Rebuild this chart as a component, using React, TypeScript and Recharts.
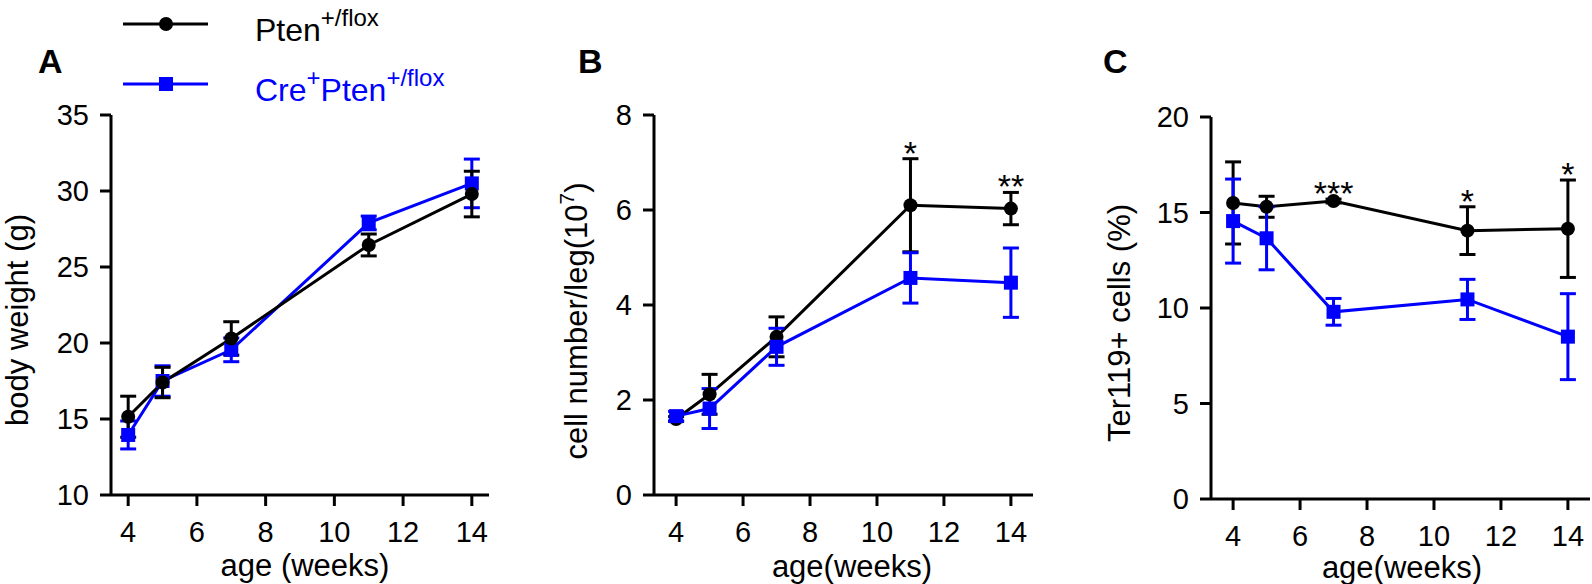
import React from 'react';
import { LineChart, Line, XAxis, YAxis, ErrorBar, ReferenceDot } from 'recharts';

const FONT = '"Liberation Sans", Arial, Helvetica, sans-serif';
const BLUE = '#0000ff';

const weeks = [4, 5, 7, 11, 14];
const weekTicks = [4, 6, 8, 10, 12, 14];

const seriesNames = ['Pten', 'Cre'];

// A - body weight (g)
const weightCtrl = [15.15, 17.4, 20.3, 26.45, 29.8];
const weightCtrlErr = [1.35, 1.0, 1.1, 0.72, 1.5];
const weightCre = [13.95, 17.5, 19.55, 27.9, 30.5];
const weightCreErr = [0.92, 1.0, 0.78, 0.45, 1.6];
const weightTicks = [10, 15, 20, 25, 30, 35];

// B - cell number/leg (10^7)
const cellsCtrl = [1.6, 2.12, 3.33, 6.1, 6.03];
const cellsCtrlErr = [0.05, 0.42, 0.42, 0.98, 0.34];
const cellsCre = [1.66, 1.82, 3.12, 4.57, 4.47];
const cellsCreErr = [0.1, 0.42, 0.39, 0.53, 0.73];
const cellsTicks = [0, 2, 4, 6, 8];
const cellsSig = ['', '', '', '*', '**'];

// C - Ter119+ cells (%)
const terCtrl = [15.5, 15.3, 15.6, 14.05, 14.15];
const terCtrlErr = [2.15, 0.55, 0.1, 1.25, 2.55];
const terCre = [14.55, 13.65, 9.8, 10.45, 8.5];
const terCreErr = [2.2, 1.65, 0.7, 1.05, 2.25];
const terTicks = [0, 5, 10, 15, 20];
const terSig = ['', '', '***', '*', '*'];

type Row = { week: number; ctrl: number; ctrlErr: number; cre: number; creErr: number };

const buildRows = (ctrl: number[], ctrlErr: number[], cre: number[], creErr: number[]): Row[] =>
  weeks.map((w, i) => ({ week: w, ctrl: ctrl[i], ctrlErr: ctrlErr[i], cre: cre[i], creErr: creErr[i] }));

const weightRows = buildRows(weightCtrl, weightCtrlErr, weightCre, weightCreErr);
const cellsRows = buildRows(cellsCtrl, cellsCtrlErr, cellsCre, cellsCreErr);
const terRows = buildRows(terCtrl, terCtrlErr, terCre, terCreErr);

const SquareDot = (props: any) => {
  const { cx, cy, index } = props;
  if (cx == null || cy == null) return null;
  return <rect key={`sq-${index}`} x={cx - 7} y={cy - 7} width={14} height={14} fill={BLUE} />;
};

const TICK_FONT = 29;

const XTick = (props: any) => {
  const { x, y, payload } = props;
  return (
    <text x={x} y={y} dy="0.71em" textAnchor="middle" fontSize={TICK_FONT} fontFamily={FONT} fill="#000">
      {payload.value}
    </text>
  );
};

const YTick = (props: any) => {
  const { x, y, payload } = props;
  return (
    <text x={x} y={y} dy="0.36em" textAnchor="end" fontSize={TICK_FONT} fontFamily={FONT} fill="#000">
      {payload.value}
    </text>
  );
};

const axisStyle = { stroke: '#000', strokeWidth: 3 };

interface PanelProps {
  left: number;
  width: number;
  rows: Row[];
  xDomain: [number, number];
  yDomain: [number, number];
  yTicks: number[];
  // plot box edges, in page pixels
  plot: { left: number; right: number; top: number; bottom: number };
  sig?: string[];
  blackOnTop?: boolean;
}

const AXIS_W = 20;
const AXIS_H = 20;

const Panel: React.FC<PanelProps> = ({ left, width, rows, xDomain, yDomain, yTicks, plot, sig, blackOnTop }) => {
  const margin = {
    top: plot.top,
    bottom: 584 - plot.bottom - AXIS_H,
    left: plot.left - left - AXIS_W,
    right: left + width - plot.right,
  };
  const black = (
    <Line
      key="ctrl"
      name={seriesNames[0]}
      dataKey="ctrl"
      stroke="#000"
      strokeWidth={3}
      dot={{ r: 7, fill: '#000', stroke: '#000', strokeWidth: 0 }}
      activeDot={false}
      isAnimationActive={false}
    >
      <ErrorBar dataKey="ctrlErr" width={8} stroke="#000" strokeWidth={3} direction="y" isAnimationActive={false} />
    </Line>
  );
  const blue = (
    <Line
      key="cre"
      name={seriesNames[1]}
      dataKey="cre"
      stroke={BLUE}
      strokeWidth={3}
      dot={SquareDot}
      activeDot={false}
      isAnimationActive={false}
    >
      <ErrorBar dataKey="creErr" width={8} stroke={BLUE} strokeWidth={3} direction="y" isAnimationActive={false} />
    </Line>
  );
  return (
    <div style={{ position: 'absolute', left, top: 0 }}>
      <LineChart width={width} height={584} data={rows} margin={margin}>
        <XAxis
          type="number"
          dataKey="week"
          domain={xDomain}
          ticks={weekTicks}
          interval={0}
          allowDataOverflow
          height={AXIS_H}
          tickSize={11}
          tickMargin={15}
          axisLine={axisStyle}
          tickLine={axisStyle}
          tick={XTick}
        />
        <YAxis
          type="number"
          domain={yDomain}
          ticks={yTicks}
          interval={0}
          allowDataOverflow
          width={AXIS_W}
          tickSize={11}
          tickMargin={11}
          axisLine={axisStyle}
          tickLine={axisStyle}
          tick={YTick}
        />
        {blackOnTop ? [blue, black] : [black, blue]}
        {sig &&
          rows.map((r, i) =>
            sig[i] ? (
              <ReferenceDot
                key={`sig-${i}`}
                x={r.week}
                y={r.ctrl + r.ctrlErr}
                r={0}
                fill="none"
                stroke="none"
                ifOverflow="visible"
                label={{ value: sig[i], position: 'top', offset: -6, fill: '#000', fontSize: 34, fontFamily: FONT }}
              />
            ) : null
          )}
      </LineChart>
    </div>
  );
};

const Overlay = () => (
  <svg
    width={1592}
    height={584}
    style={{ position: 'absolute', left: 0, top: 0, pointerEvents: 'none' }}
    fontFamily={FONT}
  >
    {/* legend */}
    <line x1={123} y1={24} x2={208} y2={24} stroke="#000" strokeWidth={3} />
    <circle cx={166} cy={24} r={7} fill="#000" />
    <text x={255} y={41} fontSize={32} fill="#000">
      Pten<tspan dy={-15} fontSize={24}>+/flox</tspan>
    </text>
    <line x1={123} y1={84} x2={208} y2={84} stroke={BLUE} strokeWidth={3} />
    <rect x={159} y={77} width={14} height={14} fill={BLUE} />
    <text x={255} y={101} fontSize={32} fill={BLUE}>
      Cre<tspan dy={-15} fontSize={24}>+</tspan>
      <tspan dy={15}>Pten</tspan>
      <tspan dy={-15} fontSize={24}>+/flox</tspan>
    </text>

    {/* panel letters */}
    <text x={38} y={73} fontSize={34} fontWeight="bold">A</text>
    <text x={578} y={73} fontSize={34} fontWeight="bold">B</text>
    <text x={1103} y={73} fontSize={34} fontWeight="bold">C</text>

    {/* axis titles */}
    <text x={305} y={576} fontSize={31} textAnchor="middle">age (weeks)</text>
    <text x={852} y={577} fontSize={31} textAnchor="middle">age(weeks)</text>
    <text x={1402} y={578} fontSize={31} textAnchor="middle">age(weeks)</text>

    <text transform="translate(28,320) rotate(-90)" fontSize={31} textAnchor="middle">body weight (g)</text>
    <text transform="translate(587,321) rotate(-90)" fontSize={31} textAnchor="middle">
      cell number/leg(10<tspan dy={-13} fontSize={21}>7</tspan>
      <tspan dy={13}>)</tspan>
    </text>
    <text transform="translate(1130,323) rotate(-90)" fontSize={31} textAnchor="middle">Ter119+ cells (%)</text>
  </svg>
);

export default function App() {
  return (
    <div
      style={{
        position: 'absolute',
        left: 0,
        top: 0,
        width: 1592,
        height: 584,
        background: '#fff',
        fontFamily: FONT,
        overflow: 'hidden',
      }}
    >
      <Panel
        left={0}
        width={520}
        rows={weightRows}
        xDomain={[3.5, 14.5]}
        yDomain={[10, 35]}
        yTicks={weightTicks}
        plot={{ left: 111, right: 489, top: 115, bottom: 495 }}
        blackOnTop
      />
      <Panel
        left={520}
        width={540}
        rows={cellsRows}
        xDomain={[3.34, 14.66]}
        yDomain={[0, 8]}
        yTicks={cellsTicks}
        plot={{ left: 654, right: 1033, top: 115, bottom: 495 }}
        sig={cellsSig}
      />
      <Panel
        left={1070}
        width={522}
        rows={terRows}
        xDomain={[3.34, 14.66]}
        yDomain={[0, 20]}
        yTicks={terTicks}
        plot={{ left: 1211, right: 1590, top: 117, bottom: 499 }}
        sig={terSig}
      />
      <Overlay />
    </div>
  );
}
